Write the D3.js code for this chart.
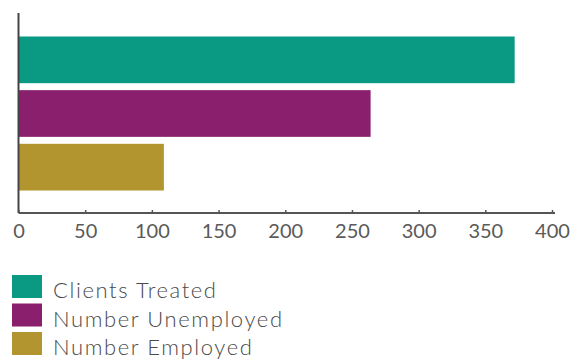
<!DOCTYPE html>
<html><head><meta charset="utf-8">
<script src="https://cdn.jsdelivr.net/npm/d3@7"></script>
<style>body{margin:0;background:#fff;} svg{display:block;}</style>
</head><body>
<svg id="chart" width="574" height="360"></svg>
<script>
const categories = ["Clients Treated", "Number Unemployed", "Number Employed"];
const values = [372, 264, 109];
const colors = ["#0a9a84", "#8a1f6d", "#b39530"];
const xTicks = [0, 50, 100, 150, 200, 250, 300, 350, 400];

const svg = d3.select("#chart");
const x = d3.scaleLinear().domain([0, 400]).range([18.5, 552]);
const y = d3.scaleBand().domain(categories).range([33, 194]).paddingInner(0.13).paddingOuter(0.065);

svg.selectAll("rect.bar").data(categories).join("rect")
  .attr("class", "bar")
  .attr("x", x(0))
  .attr("y", d => y(d))
  .attr("width", (d, i) => x(values[i]) - x(0))
  .attr("height", y.bandwidth())
  .attr("fill", (d, i) => colors[i]);

// vertical axis line
svg.append("line").attr("x1", x(0)).attr("x2", x(0)).attr("y1", 13).attr("y2", 213)
  .attr("stroke", "#444").attr("stroke-width", 2);

// x axis
const xAxis = d3.axisBottom(x).tickValues(xTicks).tickSize(-3).tickSizeOuter(0).tickPadding(7);
const gx = svg.append("g").attr("transform", "translate(0,213)").call(xAxis);
gx.select(".domain").attr("stroke", "#555").attr("stroke-width", 2).attr("d", `M${x(0)},0H555`);
gx.selectAll(".tick line").attr("stroke", "#555").attr("stroke-width", 1.5);
gx.selectAll(".tick text").attr("fill", "#5a5a5a").attr("font-family", "Lato, sans-serif")
  .attr("font-weight", 400).attr("font-size", 20).attr("dy", "0.9em");

// legend
const lg = svg.append("g");
const items = lg.selectAll("g").data(categories).join("g")
  .attr("transform", (d, i) => `translate(12,${275 + i * 28.5})`);
items.append("rect").attr("width", 30).attr("height", 23).attr("fill", (d, i) => colors[i]);
items.append("text").attr("x", 41).attr("y", 23).text(d => d)
  .attr("fill", "#4a4a4a").attr("font-family", "Lato, sans-serif").attr("font-weight", 300)
  .attr("font-size", 22).attr("letter-spacing", 1.6);
</script>
</body></html>
